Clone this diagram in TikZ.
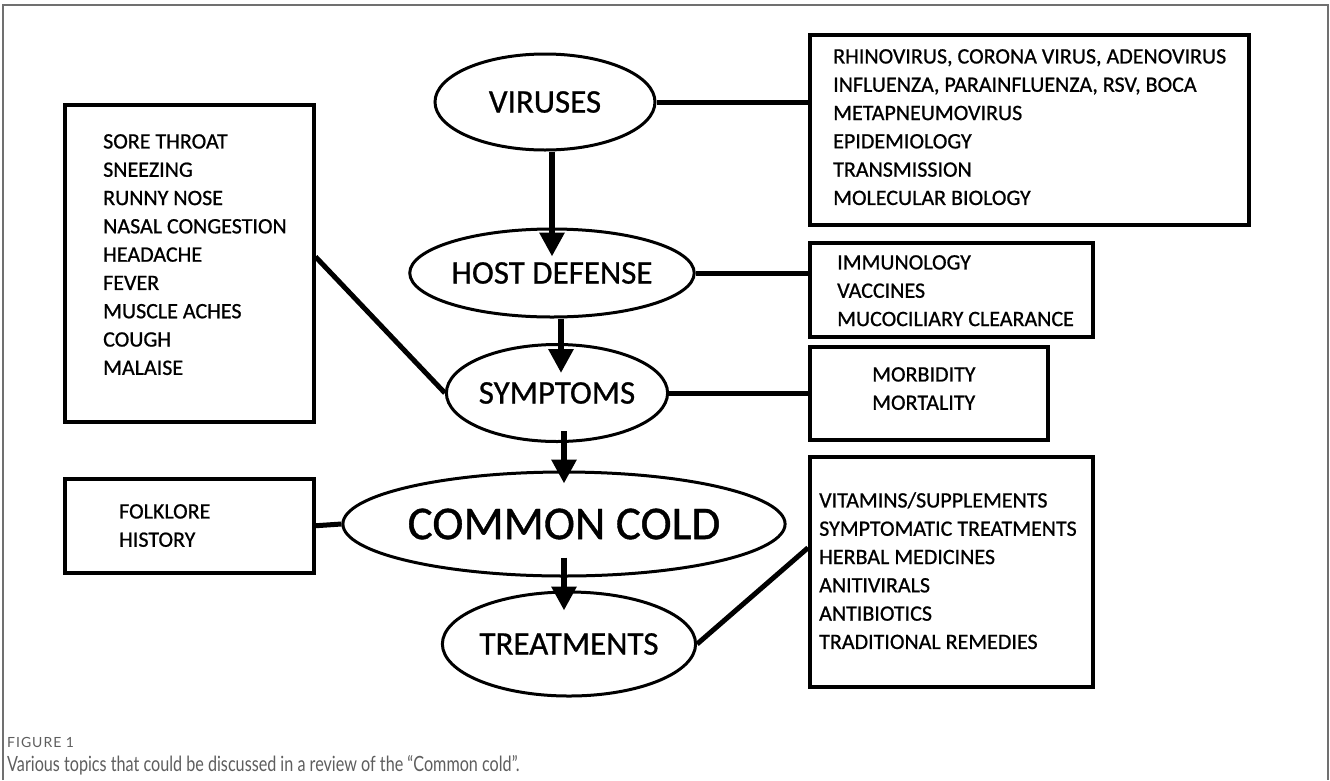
\documentclass[tikz,border=0pt]{standalone}
\usepackage{fontspec}
\setmainfont{Carlito}[FakeBold=0.8]
\newfontfamily\capfont{Lato}[FakeStretch=0.77]
\newfontfamily\figfont{Lato}[LetterSpace=7]
\usetikzlibrary{shapes.geometric,arrows.meta,calc}
\definecolor{framegray}{HTML}{707070}
\definecolor{capgray}{HTML}{5E5E5E}
\begin{document}
\begin{tikzpicture}[x=1pt,y=-1pt,
  ell/.style={ellipse, draw, line width=3pt, inner sep=0pt, font=\fontsize{33}{33}\selectfont},
  box/.style={draw, line width=3.5pt, anchor=north west, inner sep=0pt},
  lst/.style={anchor=north west, align=left, inner sep=0pt, font=\fontsize{22}{28.3}\selectfont},
  con/.style={line width=5pt},
  arr/.style={line width=6pt, -{Triangle[length=24pt,width=24pt]}}]
\useasboundingbox (0,0) rectangle (1330,780);
\draw[framegray, line width=1.5pt] (3,780) -- (3,5) -- (1328,5) -- (1328,780);

% ellipses
\node[ell, minimum width=220pt, minimum height=96pt] (vir) at (545,102) {VIRUSES};
\node[ell, minimum width=220pt, minimum height=88pt] (hd) at (552,273) {HOST DEFENSE};
\node[ell, minimum width=219pt, minimum height=97pt] (sym) at (557,393) {SYMPTOMS};
\node[ell, minimum width=358pt, minimum height=104pt, font=\fontsize{47}{47}\selectfont] (cc) at (564,524) {COMMON COLD};
\node[ell, minimum width=222pt, minimum height=104pt] (tr) at (569,644) {TREATMENTS};

% boxes
\node[box, minimum width=439pt, minimum height=190pt] (b1) at (808,33) {};
\node[box, minimum width=283pt, minimum height=94pt] (b2) at (808,241) {};
\node[box, minimum width=238pt, minimum height=93pt] (b3) at (808,345) {};
\node[box, minimum width=283pt, minimum height=230pt] (b4) at (808,455) {};
\node[box, minimum width=249pt, minimum height=317pt] (b5) at (63,103) {};
\node[box, minimum width=249pt, minimum height=94pt] (b6) at (63,477) {};

% list texts
\node[lst] (t1) at (833,49) {RHINOVIRUS, CORONA VIRUS, ADENOVIRUS\\INFLUENZA, PARAINFLUENZA, RSV, BOCA\\METAPNEUMOVIRUS\\EPIDEMIOLOGY\\TRANSMISSION\\MOLECULAR BIOLOGY};
\node[lst] (t2) at (837,255) {IMMUNOLOGY\\VACCINES\\MUCOCILIARY CLEARANCE};
\node[lst] (t3) at (872,367) {MORBIDITY\\MORTALITY};
\node[lst] (t4) at (819,492) {VITAMINS/SUPPLEMENTS\\SYMPTOMATIC TREATMENTS\\HERBAL MEDICINES\\ANITIVIRALS\\ANTIBIOTICS\\TRADITIONAL REMEDIES};
\node[lst] (t5) at (103,134) {SORE THROAT\\SNEEZING\\RUNNY NOSE\\NASAL CONGESTION\\HEADACHE\\FEVER\\MUSCLE ACHES\\COUGH\\MALAISE};
\node[lst] (t6) at (119,504) {FOLKLORE\\HISTORY};

% connectors
\draw[con] (vir.east) -- (vir.east -| b1.west);
\draw[con] (hd.east) -- (hd.east -| b2.west);
\draw[con] (sym.east) -- (sym.east -| b3.west);
\draw[con] (b6.east) -- (cc.west);
\coordinate (b5out) at ([yshift=6.5pt]b5.east);
\draw[con] (b5out) -- (sym.west);
\coordinate (b4in) at ([yshift=24pt]b4.west);
\draw[con] (tr.east) -- (b4in);

% arrows
\coordinate (a1e) at ([yshift=-29pt]hd.north);
\draw[arr] (vir.south -| hd.center) -- (a1e);
\coordinate (a2e) at ([yshift=-30pt]sym.north);
\coordinate (a2s) at ([xshift=4pt]sym.center);
\draw[arr] (hd.south -| a2s) -- (a2e -| a2s);
\coordinate (a3s) at ([yshift=12pt]sym.south);
\coordinate (a3e) at ([yshift=-13pt]cc.north);
\draw[arr] (a3s -| cc.center) -- (a3e);
\coordinate (a4s) at ([yshift=20pt]cc.south);
\coordinate (a4e) at ([yshift=-20pt]tr.north);
\draw[arr] (a4s -| cc.center) -- (a4e -| cc.center);

% caption
\node[anchor=west, inner sep=0pt, text=capgray, font=\figfont\fontsize{14}{14}\selectfont] (fig) at (7,742) {FIGURE 1};
\node[anchor=west, inner sep=0pt, text=capgray, font=\capfont\fontsize{21}{21}\selectfont] (cap) at (7,765) {Various topics that could be discussed in a review of the “Common cold”.};
\end{tikzpicture}
\end{document}
